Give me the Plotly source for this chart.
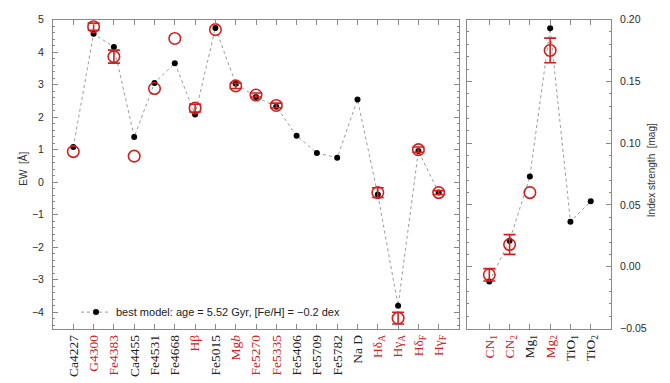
import plotly.graph_objects as go

RED = "#d0211f"
GREY = "#8a8a8a"

# Lick indices measured as equivalent widths [Å]
ew_labels = ["Ca4227", "G4300", "Fe4383", "Ca4455", "Fe4531", "Fe4668", "Hβ",
             "Fe5015", "Mg<i>b</i>", "Fe5270", "Fe5335", "Fe5406", "Fe5709",
             "Fe5782", "Na D", "Hδ<sub>A</sub>", "Hγ<sub>A</sub>",
             "Hδ<sub>F</sub>", "Hγ<sub>F</sub>"]
ew_label_red = [False, True, True, False, False, False, True,
                False, True, True, True, False, False,
                False, False, True, True, True, True]
model_ew = [1.08, 4.56, 4.16, 1.39, 3.05, 3.66, 2.08,
            4.74, 3.03, 2.62, 2.32, 1.43, 0.90,
            0.75, 2.54, -0.38, -3.80, 0.96, -0.32]
obs_ew = [0.94, 4.78, 3.86, 0.80, 2.88, 4.42, 2.28,
          4.69, 2.96, 2.68, 2.36, None, None,
          None, None, -0.32, -4.18, 1.00, -0.32]
obs_ew_err = [None, 0.11, 0.20, None, None, None, 0.12,
              None, 0.08, 0.06, 0.07, None, None,
              None, None, 0.15, 0.18, 0.08, 0.06]

# Molecular indices measured in magnitudes
mag_labels = ["CN<sub>1</sub>", "CN<sub>2</sub>", "Mg<sub>1</sub>",
              "Mg<sub>2</sub>", "TiO<sub>1</sub>", "TiO<sub>2</sub>"]
mag_label_red = [True, True, False, True, False, False]
model_mag = [-0.012, 0.021, 0.073, 0.193, 0.0365, 0.053]
obs_mag = [-0.0065, 0.018, 0.060, 0.175, None, None]
obs_mag_err = [0.005, 0.008, None, 0.010, None, None]

legend_text = "best model: age = 5.52 Gyr, [Fe/H] = \u22120.2 dex"


def colored(labels, red_flags):
    return [f'<span style="color:{RED}">{t}</span>' if r else t
            for t, r in zip(labels, red_flags)]


def split_obs(values, errors):
    with_err = [(i, v, e) for i, (v, e) in enumerate(zip(values, errors))
                if v is not None and e is not None]
    no_err = [(i, v) for i, (v, e) in enumerate(zip(values, errors))
              if v is not None and e is None]
    return with_err, no_err


fig = go.Figure()

circle = dict(symbol="circle-open", size=11.5, color=RED, line=dict(width=1.6, color=RED))


def add_panel(model, obs, errs, xa, ya, show_legend):
    idx = list(range(len(model)))
    fig.add_trace(go.Scatter(
        x=idx, y=model, mode="lines+markers", xaxis=xa, yaxis=ya,
        line=dict(color="#9a9a9a", width=1, dash="dot"),
        marker=dict(color="black", size=6),
        name=legend_text, showlegend=show_legend))
    with_err, no_err = split_obs(obs, errs)
    fig.add_trace(go.Scatter(
        x=[p[0] for p in with_err], y=[p[1] for p in with_err],
        mode="markers", xaxis=xa, yaxis=ya, marker=circle, showlegend=False,
        error_y=dict(type="data", array=[p[2] for p in with_err],
                     color=RED, thickness=1.6, width=6)))
    fig.add_trace(go.Scatter(
        x=[p[0] for p in no_err], y=[p[1] for p in no_err],
        mode="markers", xaxis=xa, yaxis=ya, marker=circle, showlegend=False))


add_panel(model_ew, obs_ew, obs_ew_err, "x", "y", True)
add_panel(model_mag, obs_mag, obs_mag_err, "x2", "y2", False)

W, H = 670, 383
ydom = [50 / H, 369 / H]

frame = dict(showline=True, linecolor=GREY, linewidth=1, mirror="allticks",
             ticks="inside", ticklen=5, tickcolor=GREY, tickwidth=1,
             showgrid=False, zeroline=False)
tickfont = dict(family="Liberation Sans, Arial, sans-serif", size=10.5, color="#2a2a2a")
catfont = dict(family="Liberation Serif, Times New Roman, serif", size=13.5, color="#222")

fig.update_layout(
    width=W, height=H,
    margin=dict(l=0, r=0, t=0, b=0),
    paper_bgcolor="white", plot_bgcolor="white",
    xaxis=dict(domain=[53 / W, 459 / W], range=[-1, 19], anchor="y",
               tickvals=list(range(len(ew_labels))),
               ticktext=colored(ew_labels, ew_label_red),
               tickangle=-90, tickfont=catfont, **frame),
    yaxis=dict(domain=ydom, range=[-4.5, 5], anchor="x", dtick=1,
               tickfont=tickfont, ticklabelstandoff=6,
               minor=dict(ticks="inside", dtick=0.2, ticklen=2, tickcolor=GREY),
               **frame),
    xaxis2=dict(domain=[467 / W, 611 / W], range=[-1.1, 6.0], anchor="y2",
                tickvals=list(range(len(mag_labels))),
                ticktext=colored(mag_labels, mag_label_red),
                tickangle=-90, tickfont=catfont, **frame),
    yaxis2=dict(domain=ydom, range=[-0.05, 0.2], anchor="x2", side="right",
                dtick=0.05, tickformat=".2f", tickfont=tickfont,
                ticklabelstandoff=6,
                minor=dict(ticks="inside", dtick=0.01, ticklen=2, tickcolor=GREY),
                **frame),
    legend=dict(x=76 / W, y=(H - 316) / H, xanchor="left", yanchor="middle",
                bgcolor="rgba(0,0,0,0)", font=dict(family="Liberation Sans, Arial, sans-serif",
                                                  size=11, color="#222"),
                itemwidth=30, tracegroupgap=0),
    annotations=[
        dict(text="EW  [Å]", x=15 / W, y=(H - 168) / H, xref="paper", yref="paper",
             textangle=-90, showarrow=False,
             font=dict(family="Liberation Sans, Arial, sans-serif", size=10, color="#333")),
        dict(text="Index strength  [mag]", x=659 / W, y=(H - 170) / H,
             xref="paper", yref="paper", textangle=-90, showarrow=False,
             font=dict(family="Liberation Sans, Arial, sans-serif", size=10, color="#333")),
    ],
)

fig.write_html("out.html")
